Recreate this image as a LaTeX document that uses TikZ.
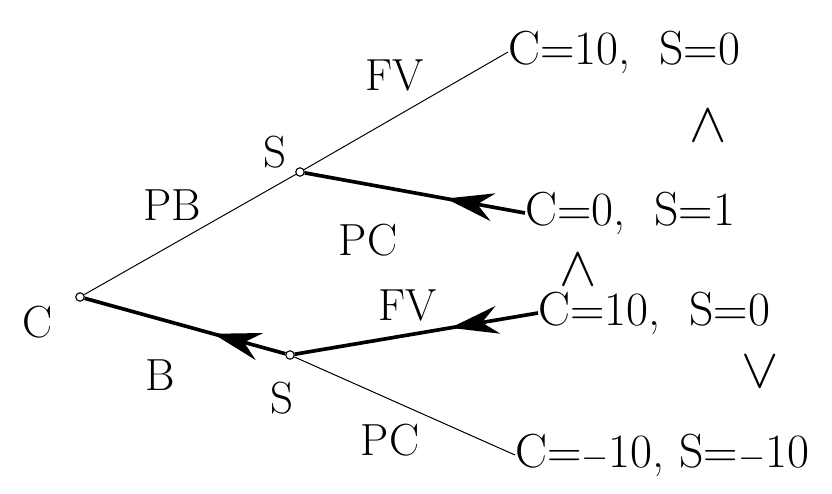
\documentclass[tikz,border=0pt]{standalone}
\usepackage{fontspec}
\usetikzlibrary{arrows.meta,decorations.markings}

\begin{document}
\begin{tikzpicture}[x=0.025cm,y=-0.025cm,
    choice/.style={draw, circle, inner sep=0pt, minimum size=6pt, thick},
    payoff/.style={anchor=west, inner sep=0pt, font=\fontsize{34}{40}\selectfont},
    lbl/.style={font=\fontsize{32}{38}\selectfont},
    cmp/.style={font=\fontsize{24}{28}\selectfont, scale=1.6, inner sep=0pt},
    branch/.style={line width=0.7pt},
    chosen/.style={line width=2.6pt, postaction={decorate},
      decoration={markings, mark=at position 0.36 with {\arrow{Stealth[length=12mm, width=7mm, inset=4mm]}}}}
  ]
    \useasboundingbox (0,0) rectangle (832,493);

    % decision nodes
    \node[choice] (root) at (80,297) {};
    \node[choice] (sup) at (300,172) {};
    \node[choice] (slow) at (290,355) {};
    \node[lbl] (rootlbl) at (38,322) {C};
    \node[lbl] (suplbl) at (275,152) {S};
    \node[lbl] (slowlbl) at (282,398) {S};

    % payoffs
    \node[payoff] (leafa) at (508,52) {C=10,\ \ S=0};
    \node[payoff] (leafb) at (525,213) {C=0,\ \ S=1};
    \node[payoff] (leafc) at (538,313) {C=10,\ \ S=0};
    \node[payoff] (leafd) at (515,455) {C=$-$10,\ S=$-$10};
    \node[cmp] (cmpa) at (708,126) {$\wedge$};
    \node[cmp] (cmpb) at (578,270) {$\wedge$};
    \node[cmp] (cmpc) at (760,372) {$\vee$};

    % branches
    \draw[branch] (root) -- (sup);
    \draw[branch] (sup) -- (leafa.west);
    \draw[branch] (slow) -- (leafd.west);
    \draw[chosen] (leafb.west) -- (sup);
    \draw[chosen] (leafc.west) -- (slow);
    \draw[chosen] (slow) -- (root);

    % branch labels
    \node[lbl] (pb) at (172,205) {PB};
    \node[lbl] (fva) at (395,75) {FV};
    \node[lbl] (pca) at (368,240) {PC};
    \node[lbl] (fvb) at (408,305) {FV};
    \node[lbl] (bb) at (160,375) {B};
    \node[lbl] (pcb) at (390,440) {PC};
  \end{tikzpicture}
\end{document}
